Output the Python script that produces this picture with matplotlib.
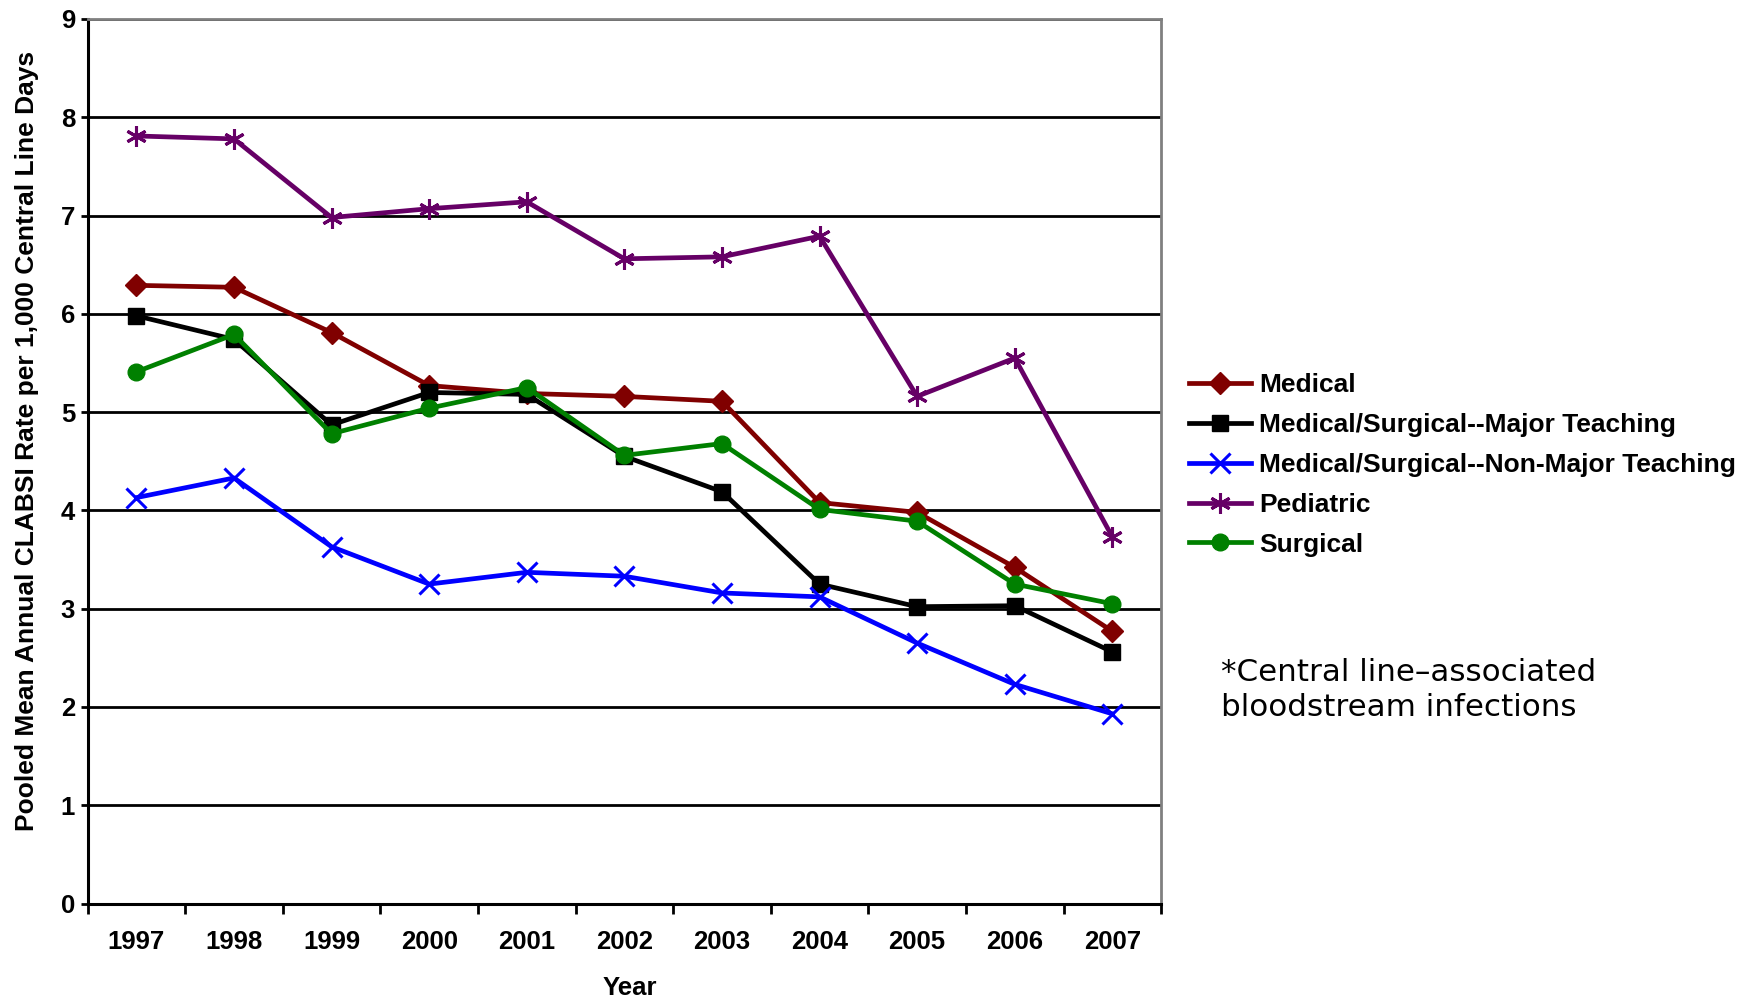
import matplotlib
matplotlib.use("Agg")
import matplotlib.pyplot as plt
from matplotlib.ticker import FixedLocator, NullFormatter

# pooled mean annual CLABSI rate
years = ["1997", "1998", "1999", "2000", "2001", "2002", "2003", "2004", "2005", "2006", "2007"]
medical = [6.29, 6.27, 5.81, 5.27, 5.19, 5.16, 5.11, 4.08, 3.98, 3.42, 2.77]
major_teaching = [5.98, 5.74, 4.87, 5.20, 5.18, 4.55, 4.19, 3.25, 3.02, 3.03, 2.56]
non_major_teaching = [4.13, 4.33, 3.63, 3.25, 3.37, 3.33, 3.16, 3.12, 2.65, 2.23, 1.93]
pediatric = [7.81, 7.78, 6.98, 7.07, 7.14, 6.56, 6.58, 6.79, 5.16, 5.55, 3.73]
surgical = [5.41, 5.79, 4.78, 5.04, 5.25, 4.56, 4.68, 4.01, 3.89, 3.25, 3.05]

names = ["Medical", "Medical/Surgical--Major Teaching",
         "Medical/Surgical--Non-Major Teaching", "Pediatric", "Surgical"]
series = [medical, major_teaching, non_major_teaching, pediatric, surgical]
colors = ["#800000", "#000000", "#0000ff", "#660066", "#008000"]
markers = ["D", "s", "x", (6, 2, 0), "o"]
msizes = [11, 12, 14, 15, 12]

plt.rcParams["font.family"] = ["Liberation Sans", "DejaVu Sans"]
plt.rcParams["font.weight"] = "bold"

fig = plt.figure(figsize=(17.62, 10), dpi=100)
ax = fig.add_axes([0.0497, 0.0965, 0.6093, 0.8845])

x = list(range(len(years)))
handles = []
for name, vals, c, m, ms in zip(names, series, colors, markers, msizes):
    mew = 2.2 if m in ("x", (6, 2, 0)) else 1
    h, = ax.plot(x, vals, color=c, lw=3.4, marker=m, markersize=ms,
                 markeredgewidth=mew, markeredgecolor=c, markerfacecolor=c,
                 label=name, zorder=3, clip_on=False)
    handles.append(h)

ax.set_xlim(-0.5, len(years) - 0.5)
ax.set_ylim(0, 9)
ax.set_yticks(range(0, 10))
ax.yaxis.grid(True, color="black", lw=2)
ax.set_axisbelow(True)

# category axis: ticks on the boundaries, labels in the middle
ax.xaxis.set_major_locator(FixedLocator([i - 0.5 for i in range(len(years) + 1)]))
ax.xaxis.set_major_formatter(NullFormatter())
ax.xaxis.set_minor_locator(FixedLocator(x))
ax.set_xticklabels(years, minor=True)
ax.tick_params(axis="x", which="major", length=7, width=2, direction="out")
ax.tick_params(axis="x", which="minor", length=0, pad=19, labelsize=18.5)
ax.tick_params(axis="y", length=5, width=2, direction="out", pad=4, labelsize=18.5)
for lab in ax.get_xticklabels(minor=True) + ax.get_yticklabels():
    lab.set_fontweight("bold")

for s in ["left", "bottom"]:
    ax.spines[s].set_color("black")
    ax.spines[s].set_linewidth(2.2)
for s in ["top", "right"]:
    ax.spines[s].set_color("#808080")
    ax.spines[s].set_linewidth(2)

ax.set_ylabel("Pooled Mean Annual CLABSI Rate per 1,000 Central Line Days",
              fontsize=19, fontweight="bold")
ax.yaxis.set_label_coords(-0.045, 0.523)
fig.text(0.3576, 0.012, "Year", ha="center", va="center", fontsize=18.5, fontweight="bold")

leg = fig.legend(handles=handles, loc="center left", bbox_to_anchor=(0.675, 0.535),
                 frameon=False, fontsize=19, handlelength=2.35, handletextpad=0.3,
                 labelspacing=0.6, borderaxespad=0, borderpad=0)
for t in leg.get_texts():
    t.set_fontweight("bold")

fig.text(0.693, 0.31, "*Central line\u2013associated\nbloodstream infections",
         ha="left", va="center", fontsize=22.3, fontweight="normal",
         family="DejaVu Sans", linespacing=1.3)

fig.savefig("out.png", dpi=100)
